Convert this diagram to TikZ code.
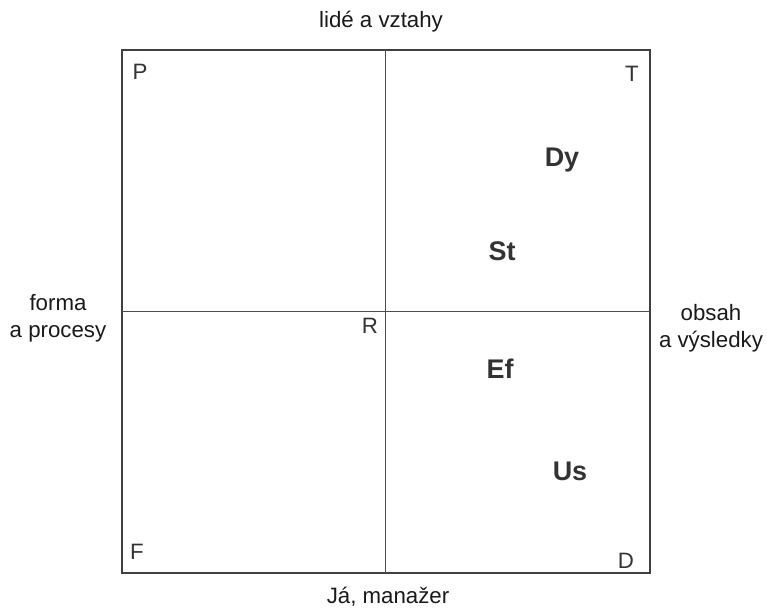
\documentclass[tikz,border=0pt]{standalone}
\usepackage{fontspec}
\setmainfont{Liberation Sans}
\tikzset{
  axislabel/.style={font=\fontsize{19}{23}\selectfont, align=center, text=black!90},
  cornerlabel/.style={font=\fontsize{19}{22}\selectfont, text=black!80},
  typelabel/.style={font=\fontsize{23}{27}\selectfont\bfseries, text=black!80}
}
\begin{document}
\begin{tikzpicture}[x=0.03cm, y=-0.03cm]
    \useasboundingbox (0,0) rectangle (767,610);
    \coordinate (nw) at (122,50);
    \coordinate (se) at (650,573);
    \coordinate (top) at (385,50);
    \coordinate (bottom) at (385,573);
    \coordinate (left) at (122,311);
    \coordinate (right) at (650,311);
    \draw [line width=1.1pt, black!75] (nw) rectangle (se);
    \draw [line width=0.6pt, black!70]
      (top) -- (bottom)
      (left) -- (right);
    % axis texts
    \node [axislabel] (people) at (381,22) {lidé a vztahy};
    \node [axislabel] (me) at (388,597) {Já, manažer};
    \node [axislabel] (form) at (58,318) {forma\\a procesy};
    \node [axislabel] (content) at (711,328) {obsah\\a výsledky};
    % corners
    \node [cornerlabel] (p) at (140,72) {P};
    \node [cornerlabel] (t) at (632,74) {T};
    \node [cornerlabel] (f) at (137,552) {F};
    \node [cornerlabel] (d) at (626,561) {D};
    \node [cornerlabel] (r) at (370,326) {R};
    % styles
    \node [typelabel] (dy) at (562,160) {Dy};
    \node [typelabel] (st) at (502,251) {St};
    \node [typelabel] (ef) at (500,369) {Ef};
    \node [typelabel] (us) at (570,471) {Us};
  \end{tikzpicture}
\end{document}
